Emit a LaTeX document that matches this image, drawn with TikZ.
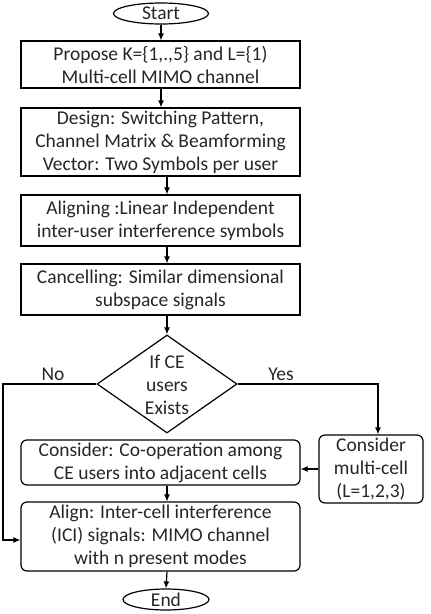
\documentclass[tikz,border=0pt]{standalone}
\usepackage{fontspec}
\setmainfont{Carlito}
\usetikzlibrary{shapes.geometric,arrows.meta}
\begin{document}
\begin{tikzpicture}[x=1pt,y=-1pt,
  every node/.style={font=\fontsize{19.5}{23}\selectfont, text=black!85},
  proc/.style={draw=black, line width=1.2pt, align=center, inner sep=0pt, minimum width=279pt},
  rproc/.style={proc, rounded corners=6pt},
  term/.style={draw=black, line width=1.2pt, ellipse, inner sep=0pt},
  dec/.style={draw=black, line width=1.2pt, diamond, inner sep=0pt, minimum width=140pt, minimum height=98pt},
  lbl/.style={inner sep=0pt},
  arr/.style={draw=black, line width=1.2pt, -{Latex[length=7pt,width=6pt]}},
  ln/.style={draw=black, line width=1.2pt}]
\useasboundingbox (0,0) rectangle (431,614);
\node[term, minimum width=95pt, minimum height=21pt] (s) at (161,13.5) {Start};
\node[proc, minimum height=47pt] (b1) at (160.5,64.5) {Propose K=\{1,.,5\} and L=\{1)\\Multi-cell MIMO channel};
\node[proc, minimum height=68pt] (b2) at (160.5,142) {Design: Switching Pattern,\\Channel Matrix \& Beamforming\\Vector: Two Symbols per user};
\node[proc, minimum height=51pt] (b3) at (160.5,220.5) {Aligning :Linear Independent\\inter-user interference symbols};
\node[proc, minimum height=51pt] (b4) at (160.5,289.5) {Cancelling: Similar dimensional\\subspace signals};
\node[dec] (d) at (167,384) {};
\node[lbl, align=center] (dt) at (167,385) {If CE\\users\\Exists};
\node[rproc, minimum height=45pt] (b5) at (160.5,462.5) {Consider: Co-operation among\\CE users into adjacent cells};
\node[rproc, minimum width=104pt, minimum height=68pt] (b7) at (371,469) {Consider\\multi-cell\\(L=1,2,3)};
\node[rproc, minimum height=69pt] (b6) at (160.5,536.5) {Align: Inter-cell interference\\(ICI) signals: MIMO channel\\with n present modes};
\node[term, minimum width=86pt, minimum height=21pt] (e) at (166,599.5) {End};
\node[lbl] (no) at (53,374) {No};
\node[lbl] (yes) at (281,374) {Yes};
\coordinate (cL) at (3,540);
\coordinate (cR) at (378,384);
\draw[arr] (s.south) -- (s.south |- b1.north);
\draw[arr] (s.south |- b1.south) -- (s.south |- b2.north);
\draw[arr] (d.north |- b2.south) -- (d.north |- b3.north);
\draw[arr] (d.north |- b3.south) -- (d.north |- b4.north);
\draw[arr] (d.north |- b4.south) -- (d.north);
\draw[arr] (d.west) -| (cL) -- (cL -| b6.west);
\draw[arr] (d.east) -- (cR) -- (cR |- b7.north);
\draw[arr] (b7.west) -- (b7.west -| b5.east);
\draw[arr] (d.north |- b5.south) -- (d.north |- b6.north);
\draw[arr] (d.north |- b6.south) -- (e.north);
\end{tikzpicture}
\end{document}
